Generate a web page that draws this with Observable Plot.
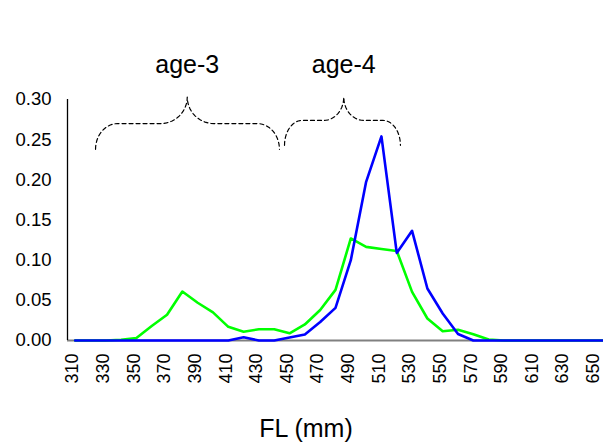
<!DOCTYPE html>
<html>
<head>
<meta charset="utf-8">
<script src="https://cdn.jsdelivr.net/npm/d3@7"></script>
<script src="https://cdn.jsdelivr.net/npm/@observablehq/plot@0.6"></script>
<style>
  html, body { margin: 0; padding: 0; background: #fff; }
  svg { display: block; }
</style>
</head>
<body>
<div id="chart"></div>
<script>
// Fork length categories (mm)
const fl = [310, 320, 330, 340, 350, 360, 370, 380, 390, 400, 410, 420, 430, 440, 450, 460, 470, 480,
            490, 500, 510, 520, 530, 540, 550, 560, 570, 580, 590, 600, 610, 620, 630, 640, 650, 660];
// Proportion, green series
const greenSeries = [0, 0, 0, 0.001, 0.003, 0.018, 0.032, 0.061, 0.047, 0.035, 0.017, 0.011, 0.014, 0.014,
                     0.009, 0.020, 0.038, 0.063, 0.127, 0.1165, 0.114, 0.1115, 0.0605, 0.0274, 0.0116, 0.0134,
                     0.0078, 0.0012, 0, 0, 0, 0, 0, 0, 0, 0];
// Proportion, blue series
const blueSeries = [0, 0, 0, 0, 0, 0, 0, 0, 0, 0, 0, 0.004, 0, 0, 0.0037, 0.0075, 0.023, 0.0406,
                    0.100, 0.1975, 0.254, 0.109, 0.1365, 0.0647, 0.0336, 0.008, 0, 0, 0, 0, 0, 0, 0, 0, 0, 0];
// Tick labels
const xTicks = [310, 330, 350, 370, 390, 410, 430, 450, 470, 490, 510, 530, 550, 570, 590, 610, 630, 650];
const yTicks = [0, 0.05, 0.10, 0.15, 0.20, 0.25, 0.30];
// Age-group braces (annotation)
const braceLabels = ["age-3", "age-4"];
const braceStart = [323.3, 446.7];
const braceTip = [383.2, 485.4];
const braceEnd = [443.4, 522.4];
const braceEndY = [0.238, 0.243];
const braceMidY = [0.270, 0.274];
const braceTipY = [0.303, 0.303];
const braceEndR = [14.4, 11.5];
const braceTipR = [17.4, 13];
const labelY = 0.3427;

const green = fl.map((x, i) => ({fl: x, v: greenSeries[i]}));
const blue = fl.map((x, i) => ({fl: x, v: blueSeries[i]}));

function bracePoints(k) {
  const x1 = braceStart[k], xt = braceTip[k], x2 = braceEnd[k];
  const ye = braceEndY[k], ym = braceMidY[k], yt = braceTipY[k];
  const re = braceEndR[k], rt = braceTipR[k];
  const pts = [];
  const n = 14;
  const arc = (cx, cy, rx, ry, t0, t1) => {
    for (let i = 0; i <= n; i++) {
      const t = t0 + (t1 - t0) * i / n;
      pts.push({x: cx + rx * Math.cos(t), y: cy + ry * Math.sin(t), b: k});
    }
  };
  arc(x1 + re, ye, re, ym - ye, Math.PI, Math.PI / 2);
  arc(xt - rt, yt, rt, yt - ym, -Math.PI / 2, 0);
  arc(xt + rt, yt, rt, yt - ym, Math.PI, 3 * Math.PI / 2);
  arc(x2 - re, ye, re, ym - ye, Math.PI / 2, 0);
  return pts;
}
const braces = braceLabels.flatMap((_, k) => bracePoints(k));
const labels = braceLabels.map((t, k) => ({t, x: braceTip[k], y: labelY}));

const font = "'Liberation Sans', Arial, Helvetica, sans-serif";

const chart = Plot.plot({
  width: 603,
  height: 444,
  marginTop: 99,
  marginBottom: 104,
  marginLeft: 67,
  marginRight: 0,
  style: {fontFamily: font, background: "#fff", color: "#000"},
  x: {type: "linear", domain: [305, 655]},
  y: {domain: [0, 0.3]},
  marks: [
    Plot.ruleY([0], {stroke: "#808080", strokeWidth: 2}),
    Plot.ruleX([305], {y1: 0, y2: 0.3, stroke: "#000", strokeWidth: 1.3}),
    Plot.axisY({ticks: yTicks, tickFormat: d3.format(".2f"), tickSize: 0, tickPadding: 16,
                fontSize: 18.5, label: null}),
    Plot.axisX({ticks: xTicks, tickFormat: d => String(d), tickSize: 0, tickPadding: 13,
                tickRotate: -90, fontSize: 18, dx: -2.5, label: null}),
    Plot.line(green, {x: "fl", y: "v", stroke: "#00ff00", strokeWidth: 2.6}),
    Plot.line(blue, {x: "fl", y: "v", stroke: "#0000ff", strokeWidth: 2.6}),
    Plot.line(braces, {x: "x", y: "y", z: "b", stroke: "#000", strokeWidth: 1.2, strokeDasharray: "4,3"}),
    Plot.text(labels, {x: "x", y: "y", text: "t", fontSize: 25, textAnchor: "middle", lineAnchor: "middle"}),
    Plot.text(["FL (mm)"], {frameAnchor: "bottom", dy: 88, dx: -29.5, fontSize: 25, lineAnchor: "middle"})
  ]
});
document.getElementById("chart").appendChild(chart);
</script>
</body>
</html>
